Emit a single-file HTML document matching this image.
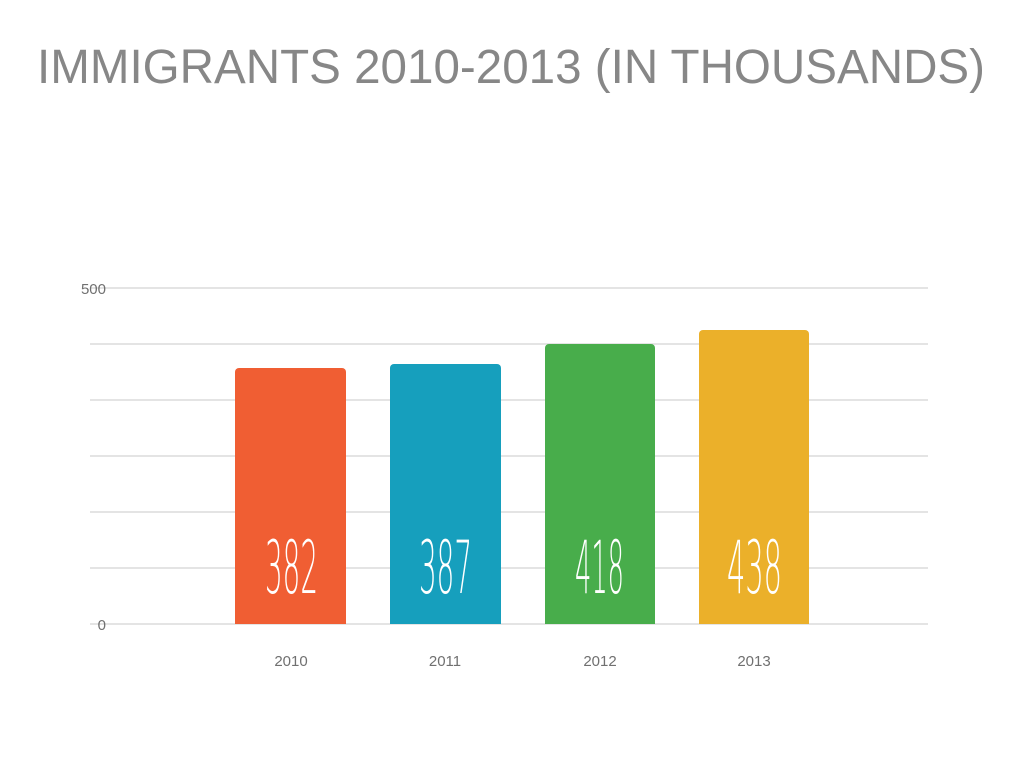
<!DOCTYPE html>
<html><head><meta charset="utf-8"><style>
html,body{margin:0;padding:0;background:#fff;width:1024px;height:768px;overflow:hidden}
</style></head><body>
<svg width="1024" height="768" xmlns="http://www.w3.org/2000/svg">
<text x="37" y="83" font-family="Liberation Sans, sans-serif" font-size="48" fill="#878787" textLength="948" lengthAdjust="spacingAndGlyphs">IMMIGRANTS 2010-2013 (IN THOUSANDS)</text>
<g stroke="#dcdcdc" stroke-width="1.5">
<line x1="90" x2="928" y1="288" y2="288"/>
<line x1="90" x2="928" y1="344" y2="344"/>
<line x1="90" x2="928" y1="400" y2="400"/>
<line x1="90" x2="928" y1="456" y2="456"/>
<line x1="90" x2="928" y1="512" y2="512"/>
<line x1="90" x2="928" y1="568" y2="568"/>
<line x1="90" x2="928" y1="624" y2="624"/>
</g>
<g font-family="Liberation Sans, sans-serif" font-size="15" fill="#707070">
<text x="106" y="294" text-anchor="end">500</text>
<text x="106" y="630" text-anchor="end">0</text>
<text x="291" y="666" text-anchor="middle">2010</text>
<text x="445" y="666" text-anchor="middle">2011</text>
<text x="600" y="666" text-anchor="middle">2012</text>
<text x="754" y="666" text-anchor="middle">2013</text>
</g>
<path d="M235 624V372a4 4 0 0 1 4-4h103a4 4 0 0 1 4 4V624Z" fill="#f05e33"/>
<path d="M390 624V368a4 4 0 0 1 4-4h103a4 4 0 0 1 4 4V624Z" fill="#169fbd"/>
<path d="M545 624V348a4 4 0 0 1 4-4h102a4 4 0 0 1 4 4V624Z" fill="#48ad4b"/>
<path d="M699 624V334a4 4 0 0 1 4-4h102a4 4 0 0 1 4 4V624Z" fill="#ebb02a"/>
<g font-family="DejaVu Sans, sans-serif" font-weight="200" font-size="73" fill="#fff">
<text x="265" y="593" textLength="53" lengthAdjust="spacingAndGlyphs">382</text>
<text x="419" y="593" textLength="53" lengthAdjust="spacingAndGlyphs">387</text>
<text x="575" y="593" textLength="49" lengthAdjust="spacingAndGlyphs">418</text>
<text x="727" y="593" textLength="55" lengthAdjust="spacingAndGlyphs">438</text>
</g>
</svg>
</body></html>
